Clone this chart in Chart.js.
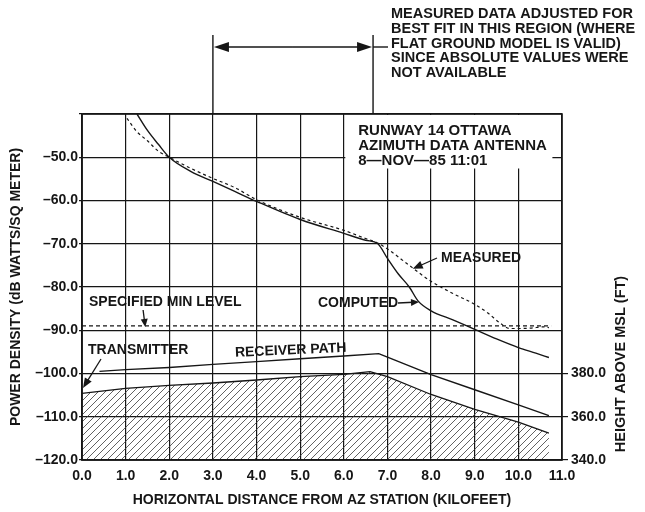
<!DOCTYPE html>
<html>
<head>
<meta charset="utf-8">
<script src="https://cdn.jsdelivr.net/npm/chart.js@4.4.0/dist/chart.umd.min.js"></script>
<style>
  html, body { margin: 0; padding: 0; background: #fff; }
</style>
</head>
<body>
<canvas id="chart" width="645" height="512"></canvas>
<script>
// tick values
const distTicks = [0, 1, 2, 3, 4, 5, 6, 7, 8, 9, 10, 11];
const heightTicks = [340, 360, 380];

// computed power density (solid)
const computedX  = [1.26, 1.5, 1.75, 2.0, 2.5, 3.0, 3.5, 4.0, 5.0, 6.0, 6.5, 6.78, 7.0, 7.25, 7.5, 7.7, 8.0, 8.5, 9.0, 9.5, 10.0, 10.4, 10.7];
const computedDb = [-40, -43.8, -47, -50, -53.3, -55.6, -57.9, -60.2, -64.4, -67.6, -69.2, -70, -73.4, -77, -80, -83.2, -85.5, -87.6, -89.8, -92, -94, -95.3, -96.3];

// measured power density (dotted)
const measuredX  = [1.03, 1.25, 1.5, 1.75, 2.0, 2.5, 3.0, 3.5, 4.0, 5.0, 6.0, 6.5, 6.75, 7.0, 7.5, 8.0, 8.5, 9.0, 9.3, 9.6, 9.8, 10.0, 10.3, 10.55, 10.7];
const measuredDb = [-41, -44, -46.2, -48.6, -50, -52.6, -54.9, -57, -59.8, -63.9, -66.9, -68.8, -69.7, -71.2, -75, -78.7, -81.5, -84, -86, -88.5, -89.6, -89.6, -89.5, -89.2, -89.4];

// specified minimum level
const minLevelX  = [0, 10.75];
const minLevelDb = [-89, -89];

// receiver path, feet above MSL
const receiverX  = [0.4, 1, 2, 3, 4, 5, 6, 6.8, 7, 8, 9, 10, 10.7];
const receiverFt = [381, 381.8, 382.8, 384.2, 385.5, 386.8, 388.1, 389.2, 387.6, 379.5, 372.5, 365.5, 360.5];

// terrain profile, feet above MSL
const terrainX  = [0, 1, 2, 3, 4, 5, 6, 6.6, 7, 8, 9, 10, 10.7];
const terrainFt = [370.8, 373.1, 374.5, 375.6, 377, 378.6, 379.6, 380.9, 378.6, 370.3, 363.4, 357.5, 352.4];

const pts = (xs, ys) => xs.map((v, i) => ({x: v, y: ys[i]}));

const INK = '#161616';
const FAMILY = '"Liberation Sans", Arial, Helvetica, sans-serif';

// hatch pattern for the ground
const hatchCanvas = document.createElement('canvas');
hatchCanvas.width = 7; hatchCanvas.height = 7;
const hc = hatchCanvas.getContext('2d');
hc.strokeStyle = '#3a3a3a'; hc.lineWidth = 0.8;
hc.beginPath();
hc.moveTo(0, 7); hc.lineTo(7, 0);
hc.moveTo(-1, 1); hc.lineTo(1, -1);
hc.moveTo(6, 8); hc.lineTo(8, 6);
hc.stroke();
const hatch = hc.createPattern(hatchCanvas, 'repeat');

function arrow(ctx, x1, y1, x2, y2, len, half) {
  const a = Math.atan2(y2 - y1, x2 - x1);
  const c = Math.cos(a), s = Math.sin(a);
  ctx.beginPath();
  ctx.moveTo(x1, y1);
  ctx.lineTo(x2 - c * len * 0.7, y2 - s * len * 0.7);
  ctx.stroke();
  ctx.beginPath();
  ctx.moveTo(x2, y2);
  ctx.lineTo(x2 - len * c + half * s, y2 - len * s - half * c);
  ctx.lineTo(x2 - len * c - half * s, y2 - len * s + half * c);
  ctx.closePath();
  ctx.fill();
}

const notes = {
  id: 'notes',
  beforeDatasetsDraw(chart) {
    const {ctx, chartArea: a, scales: {x, y}} = chart;
    // blank box for the run label
    const bx = x.getPixelForValue(6) + 1.5;
    const by = a.top + 1;
    ctx.save();
    ctx.fillStyle = '#fff';
    ctx.fillRect(bx, by, x.getPixelForValue(10.78) - bx, y.getPixelForValue(-52.6) - by);
    ctx.restore();
  },
  afterDraw(chart) {
    const {ctx, chartArea: a, scales: {x, y}} = chart;
    ctx.save();
    ctx.strokeStyle = INK;
    ctx.fillStyle = INK;

    // frame
    ctx.lineWidth = 1.6;
    ctx.strokeRect(a.left, a.top, a.right - a.left, a.bottom - a.top);

    // best-fit region marker above the plot
    const xa = x.getPixelForValue(3), xb = x.getPixelForValue(6.67);
    ctx.lineWidth = 1.4;
    ctx.beginPath();
    ctx.moveTo(xa, 35); ctx.lineTo(xa, a.top);
    ctx.moveTo(xb, 35); ctx.lineTo(xb, a.top);
    ctx.stroke();
    const mid = (xa + xb) / 2;
    arrow(ctx, mid, 47, xa + 1, 47, 15, 5);
    arrow(ctx, mid, 47, xb - 1, 47, 15, 5);
    ctx.beginPath(); ctx.moveTo(xb, 47); ctx.lineTo(388, 47); ctx.stroke();

    ctx.font = 'bold 14.5px ' + FAMILY;
    ctx.textBaseline = 'middle';
    ctx.textAlign = 'left';
    ['MEASURED DATA ADJUSTED FOR', 'BEST FIT IN THIS REGION (WHERE', 'FLAT GROUND MODEL IS VALID)',
     'SINCE ABSOLUTE VALUES WERE', 'NOT AVAILABLE'].forEach((t, i) => ctx.fillText(t, 391, 14 + i * 14.8));

    // run label
    ctx.font = 'bold 15px ' + FAMILY;
    const lx = x.getPixelForValue(6.33);
    ['RUNWAY 14 OTTAWA', 'AZIMUTH DATA ANTENNA', '8—NOV—85 11:01'].forEach((t, i) => ctx.fillText(t, lx, 131 + i * 15));

    // curve labels
    ctx.font = 'bold 14px ' + FAMILY;
    ctx.lineWidth = 1.3;
    ctx.fillText('SPECIFIED MIN LEVEL', 89, 302);
    arrow(ctx, x.getPixelForValue(1.4), 310, x.getPixelForValue(1.45), y.getPixelForValue(-89) + 1, 8, 3.5);

    ctx.fillText('TRANSMITTER', 88, 350);
    arrow(ctx, 101, 359, x.getPixelForValue(0) + 1, 388, 10, 4);

    ctx.fillText('COMPUTED', 318, 303);
    arrow(ctx, 398, 303, x.getPixelForValue(7.7) + 1, 302, 8, 3.5);

    ctx.fillText('MEASURED', 441, 258);
    arrow(ctx, 437, 258, x.getPixelForValue(7.58), y.getPixelForValue(-75.8), 10, 4);

    ctx.save();
    ctx.translate(235, 353);
    ctx.rotate(-2.6 * Math.PI / 180);
    ctx.fillText('RECEIVER PATH', 0, 0);
    ctx.restore();

    // right axis title
    ctx.save();
    ctx.font = 'bold 14.5px ' + FAMILY;
    ctx.textAlign = 'center';
    ctx.translate(621, 364);
    ctx.rotate(-Math.PI / 2);
    ctx.fillText('HEIGHT ABOVE MSL (FT)', 0, 0);
    ctx.restore();

    ctx.restore();
  }
};

const tickFont = {family: FAMILY, size: 14, weight: 'bold'};
const titleFont = {family: FAMILY, size: 14, weight: 'bold'};
const line = {pointRadius: 0, borderColor: INK, fill: false};

new Chart(document.getElementById('chart'), {
  type: 'line',
  data: {
    datasets: [
      {...line, data: pts(computedX, computedDb), yAxisID: 'y', borderWidth: 1.4, cubicInterpolationMode: 'monotone', order: 1},
      {...line, data: pts(measuredX, measuredDb), yAxisID: 'y', borderWidth: 1.2, borderDash: [3, 3], cubicInterpolationMode: 'monotone', order: 2},
      {...line, data: pts(minLevelX, minLevelDb), yAxisID: 'y', borderWidth: 1.2, borderDash: [4, 3], order: 3},
      {...line, data: pts(receiverX, receiverFt), yAxisID: 'y2', borderWidth: 1.4, order: 4},
      {...line, data: pts(terrainX, terrainFt), yAxisID: 'y2', borderWidth: 1.3, fill: {value: 340}, backgroundColor: hatch, order: 5}
    ]
  },
  options: {
    responsive: false,
    animation: false,
    devicePixelRatio: 1,
    layout: {padding: {top: 114, left: 0, right: 0, bottom: 0}},
    plugins: {legend: {display: false}, tooltip: {enabled: false}},
    scales: {
      x: {
        type: 'linear', position: 'bottom', min: 0, max: 11,
        afterBuildTicks: s => { s.ticks = distTicks.map(v => ({value: v})); },
        afterFit: s => { s.height = 52; },
        ticks: {font: tickFont, color: INK, padding: 8, maxRotation: 0, autoSkip: false, callback: v => v.toFixed(1)},
        grid: {color: INK, lineWidth: 1.2, drawTicks: false},
        border: {color: INK, width: 1.6},
        title: {display: true, text: 'HORIZONTAL DISTANCE FROM AZ STATION (KILOFEET)', font: titleFont, color: INK, padding: {top: 0, bottom: 3}}
      },
      y: {
        type: 'linear', position: 'left', min: -120, max: -40,
        ticks: {stepSize: 10, font: tickFont, color: INK, padding: 1, callback: v => v <= -50 ? '–' + Math.abs(v).toFixed(1) : ''},
        afterFit: s => { s.width = 82; },
        grid: {color: INK, lineWidth: 1.2, tickLength: 3},
        border: {color: INK, width: 1.6},
        title: {display: true, text: 'POWER DENSITY (dB WATTS/SQ METER)', font: titleFont, color: INK, padding: {top: 8, bottom: 0}}
      },
      y2: {
        type: 'linear', position: 'right', min: 340, max: 500,
        afterBuildTicks: s => { s.ticks = heightTicks.map(v => ({value: v})); },
        afterFit: s => { s.width = 83; },
        ticks: {font: tickFont, color: INK, padding: 3, callback: v => v.toFixed(1)},
        grid: {drawOnChartArea: false, color: INK, lineWidth: 1.2, tickLength: 6},
        border: {display: false}
      }
    }
  },
  plugins: [notes]
});
</script>
</body>
</html>
